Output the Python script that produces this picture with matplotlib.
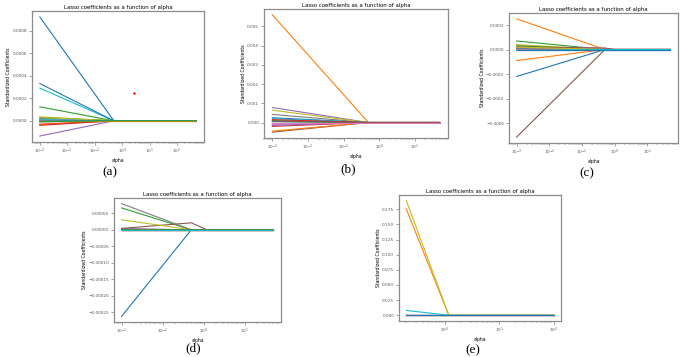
import matplotlib
matplotlib.use("Agg")
import matplotlib.pyplot as plt

W, H = 685, 357

# ---- data (a) ----
alphas_a = [0.001, 0.5, 500]
coefs_a = [
    [0.00092, 0, 0], [0.000008, 0, 0], [0.000124, 0, 0], [-0.00003, 0, 0],
    [-0.000135, 0, 0], [0.000005, 0, 0], [0.0, 0, 0], [0.00002, 0, 0],
    [0.000035, 0, 0], [0.00029, 0, 0], [0.00033, 0, 0], [-0.000035, 0, 0],
    [0.000028, 0, 0], [-0.00004, 0, 0], [0.000015, 0, 0], [-0.000008, 0, 0],
    [0.00001, 0, 0], [0.0, 0, 0], [0.00003, 0, 0], [0.00001, 0, 0],
    [-0.000005, 0, 0], [0.0, 0, 0], [-0.000008, 0, 0],
]
dot_a_x = [2.7]
dot_a_y = [0.00025]

# ---- data (b) ----
alphas_b = [0.001, 0.5, 50]
coefs_b = [
    [0.00025, 0, 0], [0.0056, 0, 0], [0.0001, 0, 0], [-0.0002, 0, 0],
    [0.00078, 0, 0], [-0.0005, 0, 0], [-0.0001, 0, 0], [0.00042, 0, 0],
    [0.00064, 0, 0], [0.0002, 0, 0], [0.00005, 0, 0], [-0.00045, 0, 0],
    [-0.00005, 0, 0], [0.00015, 0, 0], [-0.00015, 0, 0], [0.00008, 0, 0],
    [0.0, 0, 0],
]

# ---- data (c) ----
alphas_c = [0.001, 0.5, 1.0, 50]
coefs_c = [
    [-0.00022, 0, 0, 0], [0.00025, 0, 0, 0], [0.00007, 0, 0, 0],
    [0.00001, 0, 0, 0], [0.00002, 0, 0, 0], [-0.000715, 0, 0, 0],
    [0.00003, 0.00001, 0, 0], [0.00002, 0, 0, 0], [0.00004, 0, 0, 0],
    [0.0, 0, 0, 0], [0.00001, 0, 0, 0], [-0.00009, 0, 0, 0],
    [0.00003, 0, 0, 0], [-0.000005, 0, 0, 0], [0.0, 0, 0, 0],
    [0.00002, 0.000012, 0, 0], [0.000015, 0, 0, 0], [0.000005, 0, 0, 0],
    [0.00002, 0, 0, 0], [-0.000008, 0, 0, 0], [0.0, 0, 0, 0],
]

# ---- data (d) ----
alphas_d = [0.01, 0.5, 1.2, 50]
coefs_d = [
    [-0.000262, 0, 0, 0], [0.0, 0, 0, 0], [0.000066, 0, 0, 0],
    [0.000002, 0, 0, 0], [0.000003, 0, 0, 0], [0.000004, 0.000021, 0, 0],
    [0.0, 0, 0, 0], [0.000079, 0, 0, 0], [0.00003, 0, 0, 0],
    [-0.000001, 0, 0, 0], [0.000001, 0, 0, 0], [0.0, 0, 0, 0],
    [0.000001, 0, 0, 0], [0.0, 0, 0, 0], [0.0, 0, 0, 0],
    [0.0, 0, 0, 0], [0.0, 0, 0, 0], [0.0, 0, 0, 0], [0.0, 0, 0, 0],
    [0.0, 0, 0, 0],
]

# ---- data (e) ----
alphas_e = [0.2, 1.2, 100]
coefs_e = [
    [0.0, 0, 0], [0.175, 0, 0], [0.0, 0, 0], [0.0, 0, 0], [0.0, 0, 0],
    [0.0, 0, 0], [0.0, 0, 0], [0.0, 0, 0], [0.189, 0, 0], [0.008, 0, 0],
    [0.0, 0, 0],
]

panel_labels = ["(a)", "(b)", "(c)", "(d)", "(e)"]

fig = plt.figure(figsize=(W / 100, H / 100), dpi=100)


def make_ax(l, r, t, b):
    return fig.add_axes([l / W, 1 - b / H, (r - l) / W, (b - t) / H])


def style(ax, title_pad=1.5):
    ax.set_title("Lasso coefficients as a function of alpha", fontsize=3.9,
                 pad=title_pad)
    ax.set_xlabel("alpha", fontsize=3.3, labelpad=1.5)
    ax.set_ylabel("Standardized Coefficients", fontsize=3.3, labelpad=1)
    ax.tick_params(axis="both", which="major", labelsize=3.1, length=2,
                   width=0.4, pad=1.5, colors="0.35")
    ax.tick_params(axis="both", which="minor", length=1.2, width=0.3,
                   colors="0.35")
    for s in ax.spines.values():
        s.set_color("0.55")
        s.set_linewidth(0.9)


def draw(ax, alphas, coefs):
    for c in coefs:
        ax.plot(alphas, c, lw=0.8)
    ax.set_xscale("log")


axes_pos = [
    (32, 204, 11, 142),
    (264, 448, 9, 138),
    (509, 678, 13, 143),
    (114, 281, 198, 322),
    (399, 561, 195, 321),
]
label_pos = [(110, 172), (348, 169), (587, 173), (193, 348), (473, 350)]

data = [(alphas_a, coefs_a), (alphas_b, coefs_b), (alphas_c, coefs_c),
        (alphas_d, coefs_d), (alphas_e, coefs_e)]

for i, ((al, co), pos) in enumerate(zip(data, axes_pos)):
    ax = make_ax(*pos)
    draw(ax, al, co)
    if i == 0:
        ax.scatter(dot_a_x, dot_a_y, s=0.6, color="red", zorder=5)
    style(ax)
    lx, ly = label_pos[i]
    fig.text(lx / W, 1 - ly / H, panel_labels[i], ha="center", va="center",
             fontsize=9.5, family="Liberation Serif")

fig.savefig("out.png", dpi=100)
